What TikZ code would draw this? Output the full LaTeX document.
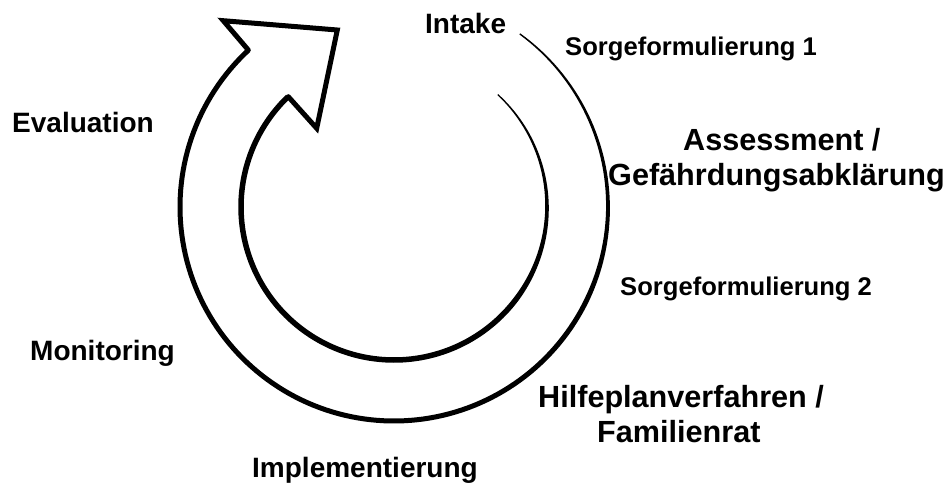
\documentclass[tikz,border=0pt]{standalone}
\usepackage{fontspec}
\setmainfont{Liberation Sans}
\begin{document}
\begin{tikzpicture}[x=1pt,y=-1pt,
  lab/.style={inner sep=0pt, anchor=base west, text=black},
  big/.style={lab, font=\bfseries\fontsize{28}{30}\selectfont},
  huge/.style={lab, font=\bfseries\fontsize{30.6}{33}\selectfont},
  small/.style={lab, font=\bfseries\fontsize{25.6}{28}\selectfont},
  head/.style={line width=5pt, line join=miter, line cap=round}]
\useasboundingbox (0,0) rectangle (950,488);
\fill[white] (0,0) rectangle (950,488);
% centre of the ring
\coordinate (C) at (394,207);
% outer ring (tapered stroke)
\fill[black] plot[domain=-54:227.1, samples=160]
  ({394+(214+0.5*min(5,1.4+0.045*(\x+54)))*cos(\x)},{207+(214+0.5*min(5,1.4+0.045*(\x+54)))*sin(\x)})
  -- plot[domain=227.1:-54, samples=160]
  ({394+(214-0.5*min(5,1.4+0.045*(\x+54)))*cos(\x)},{207+(214-0.5*min(5,1.4+0.045*(\x+54)))*sin(\x)})
  -- cycle;
% inner ring (tapered stroke)
\fill[black] plot[domain=-47.3:226.1, samples=160]
  ({394+(153+0.5*min(5.5,1.2+0.05*(\x+47.3)))*cos(\x)},{207+(153+0.5*min(5.5,1.2+0.05*(\x+47.3)))*sin(\x)})
  -- plot[domain=226.1:-47.3, samples=160]
  ({394+(153-0.5*min(5.5,1.2+0.05*(\x+47.3)))*cos(\x)},{207+(153-0.5*min(5.5,1.2+0.05*(\x+47.3)))*sin(\x)})
  -- cycle;
% arrow head
\coordinate (onotch) at (248.3,50);
\coordinate (back) at (223.3,20.7);
\coordinate (tip) at (337.3,30);
\coordinate (barb) at (316.7,128.3);
\coordinate (inotch) at (288.3,96.7);
\draw[head] (onotch) -- (back) -- (tip) -- (barb) -- (inotch);
% labels
\node[big] (intake) at (425,33) {Intake};
\node[small] (sorge1) at (565,55) {Sorgeformulierung 1};
\node[huge] (assess) at (683,150) {Assessment /};
\node[huge] (gefahr) at (608,185) {Gefährdungsabklärung};
\node[small] (sorge2) at (620,295) {Sorgeformulierung 2};
\node[huge] (hilfe) at (538,407) {Hilfeplanverfahren /};
\node[huge] (famrat) at (597,442) {Familienrat};
\node[big] (implem) at (252,477) {Implementierung};
\node[big] (monit) at (30,360) {Monitoring};
\node[big] (evalu) at (12,132) {Evaluation};
\end{tikzpicture}
\end{document}
